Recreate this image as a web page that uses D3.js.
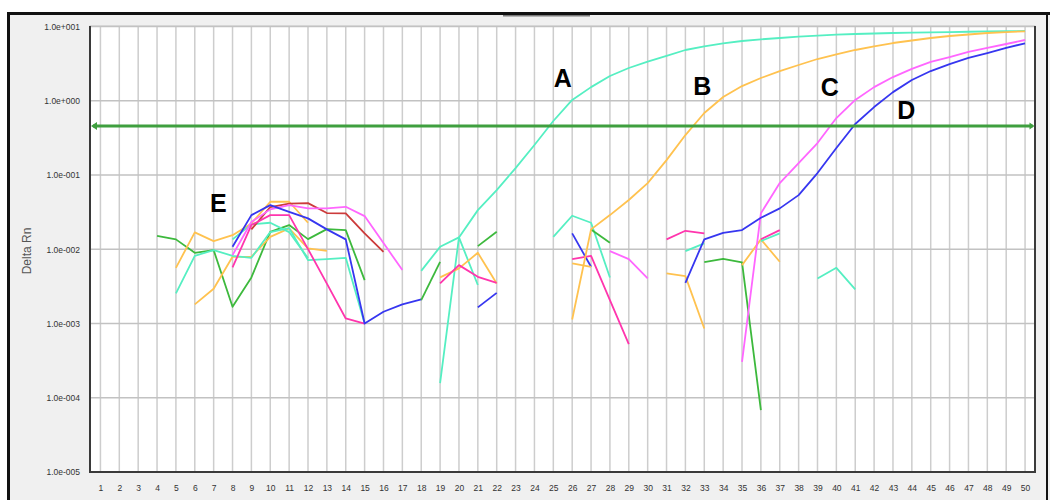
<!DOCTYPE html>
<html>
<head>
<meta charset="utf-8">
<script src="https://cdn.jsdelivr.net/npm/d3@7"></script>
<style>
  body { margin: 0; background: #ffffff; }
  svg { display: block; font-family: "Liberation Sans", Arial, sans-serif; }
</style>
</head>
<body>
<svg id="chart" width="1050" height="500"></svg>
<script>
// ---- data -----------------------------------------------------------------
const cycles = d3.range(1, 51);
const yTicks = [1e-5, 1e-4, 1e-3, 1e-2, 1e-1, 1e0, 1e1];
const yTickLabels = ["1.0e-005", "1.0e-004", "1.0e-003", "1.0e-002", "1.0e-001", "1.0e+000", "1.0e+001"];
const threshold = 0.457;

// amplification curves (value per cycle, starting at the given cycle)
const ampA = [0.00513, 0.0108, 0.01446, 0.0337, 0.0628, 0.124, 0.254, 0.535, 1.03, 1.53, 2.16, 2.77, 3.37, 4.02, 4.84, 5.40, 5.96, 6.40, 6.74, 7.02, 7.31, 7.54, 7.78, 7.95, 8.07, 8.20, 8.28, 8.38, 8.45, 8.53, 8.61, 8.67, 8.73];
const ampAStart = 18;
const ampB = [0.001135, 0.01854, 0.0289, 0.0461, 0.078, 0.159, 0.346, 0.685, 1.125, 1.58, 2.03, 2.52, 3.04, 3.66, 4.21, 4.84, 5.40, 6.01, 6.50, 7.02, 7.47, 7.83, 8.20, 8.45, 8.65];
const ampBStart = 26;
const ampC = [0.000305, 0.0305, 0.078, 0.145, 0.27, 0.586, 1.03, 1.53, 2.09, 2.69, 3.34, 3.89, 4.55, 5.15, 5.83, 6.60];
const ampCStart = 35;
const ampD = [0.00354, 0.0136, 0.01668, 0.01815, 0.0266, 0.0356, 0.0537, 0.1064, 0.231, 0.487, 0.824, 1.31, 1.91, 2.52, 3.13, 3.78, 4.40, 5.15, 5.96];
const ampDStart = 32;

// early-cycle background noise (group E)
const greenE = [0.0152, 0.0136, 0.00897, 0.00975, 0.00168, 0.00418, 0.01722, 0.0212, 0.0137, 0.0187, 0.01815, 0.00385];   // from 4
const orangeE1 = [0.00563, 0.0169, 0.0129, 0.0155, 0.0223, 0.0437, 0.0437, 0.0228];                                       // from 5
const orangeE2 = [0.00181, 0.00294, 0.00792, 0.00792, 0.0147, 0.0191, 0.0103, 0.00955];                                   // from 6
const aquaE1 = [0.00255, 0.00817, 0.00975, 0.00817, 0.00768, 0.01706, 0.0193, 0.00715, 0.00738, 0.00768, 0.001];          // from 5
const aquaE2 = [0.0136, 0.0217, 0.0228, 0.01706, 0.0076];                                                                 // from 8
const blueE = [0.0108, 0.0289, 0.0394, 0.032, 0.0261, 0.01854, 0.0136, 0.001, 0.00144, 0.00181, 0.00211];                // from 8
const redE = [0.01854, 0.0371, 0.0413, 0.0419, 0.0308, 0.0304, 0.01637, 0.00925];                                         // from 9
const magentaE = [0.00836, 0.0233, 0.0345, 0.0394, 0.0356, 0.0356, 0.0374, 0.028, 0.01213, 0.00525];                      // from 8
const pinkE = [0.0057, 0.0212, 0.0289, 0.0289, 0.01007, 0.00345, 0.00117, 0.001];                                         // from 8

// scattered noise fragments at later cycles
const greenM1 = [0.00207, 0.00679];              // from 18
const greenM2 = [0.01104, 0.01722];              // from 21
const aquaM = [0.000157, 0.01446, 0.0033];       // from 19
const orangeM = [0.00418, 0.00553, 0.00897, 0.00347]; // from 19
const pinkM = [0.00347, 0.00612, 0.00426, 0.00354];   // from 19
const blueM = [0.00165, 0.00259];                // from 21
const aquaG = [0.0147, 0.0283, 0.0228, 0.00418]; // from 25
const blueG = [0.01637, 0.00581];                // from 26
const pinkG = [0.00738, 0.00817, 0.00207, 0.000527]; // from 26
const orangeG = [0.00646, 0.00581];              // from 26
const greenG = [0.01854, 0.01225];               // from 27
const magentaG = [0.00946, 0.00738, 0.00405];    // from 28
const pinkR = [0.0136, 0.01775, 0.01637];        // from 31
const aquaR = [0.00946, 0.01202];                // from 32
const orangeR = [0.00473, 0.00435, 0.000859];    // from 31
const greenR = [0.00672, 0.00745, 0.00665, 0.0000681]; // from 33
const orangeR2 = [0.00612, 0.0136, 0.00679];     // from 35
const pinkR2 = [0.0136, 0.01815];                // from 36
const aquaR2 = [0.0129, 0.01637];                // from 36
const aquaR3 = [0.00405, 0.00563, 0.00288];      // from 39

const curveLabels = ["A", "B", "C", "D", "E"];
const labelCycles = [25.5, 32.9, 39.65, 43.7, 7.25];
const labelValues = [1.55, 1.2, 1.17, 0.57, 0.032];

// ---- styles ---------------------------------------------------------------
const C = {
  aqua: "#55efc2", orange: "#ffc24f", magenta: "#ff66ff", blue: "#3636f0",
  green: "#3db93d", pink: "#ff35ad", red: "#cc3b3b"
};

const traces = [
  [greenE, 4, C.green], [orangeE1, 5, C.orange], [orangeE2, 6, C.orange],
  [aquaE1, 5, C.aqua], [aquaE2, 8, C.aqua], [redE, 9, C.red],
  [magentaE, 8, C.magenta], [pinkE, 8, C.pink], [blueE, 8, C.blue],
  [greenM1, 18, C.green], [greenM2, 21, C.green], [aquaM, 19, C.aqua],
  [orangeM, 19, C.orange], [pinkM, 19, C.pink], [blueM, 21, C.blue],
  [aquaG, 25, C.aqua], [blueG, 26, C.blue], [pinkG, 26, C.pink],
  [orangeG, 26, C.orange], [greenG, 27, C.green], [magentaG, 28, C.magenta],
  [pinkR, 31, C.pink], [aquaR, 32, C.aqua], [orangeR, 31, C.orange],
  [greenR, 33, C.green], [orangeR2, 35, C.orange], [pinkR2, 36, C.pink],
  [aquaR2, 36, C.aqua], [aquaR3, 39, C.aqua],
  [ampA, ampAStart, C.aqua], [ampB, ampBStart, C.orange],
  [ampC, ampCStart, C.magenta], [ampD, ampDStart, C.blue]
].map(([vals, start, color]) => ({ color, points: vals.map((v, i) => [start + i, v]) }));

// ---- layout ---------------------------------------------------------------
const svg = d3.select("#chart");
const plot = { left: 90, right: 1035, top: 26, bottom: 472 };

const x = d3.scaleLinear().domain([0.5, 50.5]).range([plot.left + 1, plot.right - 0.5]);
const y = d3.scaleLog().domain([1e-5, 1e1]).range([plot.bottom, plot.top + 0.6]);

// window background and frame
svg.append("rect").attr("x", 7).attr("y", 12).attr("width", 1043).attr("height", 488).attr("fill", "#f0f0f0");
svg.append("rect").attr("x", 503).attr("y", 13.5).attr("width", 87).attr("height", 3).attr("fill", "#7a7a7a");
svg.append("path").attr("d", "M8.5,500 V13.5 H1050").attr("fill", "none").attr("stroke", "#111").attr("stroke-width", 3);
svg.append("line").attr("x1", 1047).attr("x2", 1047).attr("y1", 12).attr("y2", 500)
  .attr("stroke", "#111").attr("stroke-width", 2);

// plot area
svg.append("rect").attr("x", plot.left).attr("y", plot.top)
  .attr("width", plot.right - plot.left).attr("height", plot.bottom - plot.top)
  .attr("fill", "#ffffff").attr("stroke", "#c8c8c8").attr("stroke-width", 1);

const grid = svg.append("g");
grid.selectAll("line.v").data(cycles).join("line").attr("class", "v")
  .attr("x1", d => x(d)).attr("x2", d => x(d))
  .attr("y1", plot.top).attr("y2", plot.bottom)
  .attr("stroke", "#cdcdcd").attr("stroke-width", 1.5);
grid.selectAll("line.h").data(yTicks).join("line").attr("class", "h")
  .attr("x1", plot.left).attr("x2", plot.right)
  .attr("y1", d => y(d)).attr("y2", d => y(d))
  .attr("stroke", "#c2c2c2").attr("stroke-width", 1.5);

// plot border: dark left, bottom and right edges
svg.append("path")
  .attr("d", `M${plot.left},${plot.top} V${plot.bottom} H${plot.right} V${plot.top}`)
  .attr("fill", "none").attr("stroke", "#3a3a3a").attr("stroke-width", 2);

// axes
const yAxis = svg.append("g").attr("transform", `translate(${plot.left},0)`)
  .call(d3.axisLeft(y).tickValues(yTicks).tickFormat((d, i) => yTickLabels[i]).tickSize(0).tickPadding(10));
yAxis.select(".domain").remove();
yAxis.selectAll("text").attr("font-size", 8.5).attr("fill", "#333");

const xAxis = svg.append("g").attr("transform", `translate(0,${plot.bottom})`)
  .call(d3.axisBottom(x).tickValues(cycles).tickFormat(d3.format("d")).tickSize(0).tickPadding(13));
xAxis.select(".domain").remove();
xAxis.selectAll("text").attr("font-size", 8.5).attr("fill", "#333");

svg.append("text").attr("transform", "translate(31,251) rotate(-90)")
  .attr("text-anchor", "middle").attr("font-size", 12).attr("fill", "#555")
  .text("Delta Rn");

// traces
const line = d3.line().x(d => x(d[0])).y(d => y(d[1]));
const clip = svg.append("clipPath").attr("id", "plotclip").append("rect")
  .attr("x", plot.left + 1).attr("y", plot.top).attr("width", plot.right - plot.left - 2).attr("height", plot.bottom - plot.top - 1);
svg.append("g").attr("clip-path", "url(#plotclip)")
  .selectAll("path").data(traces).join("path")
  .attr("d", d => line(d.points))
  .attr("fill", "none").attr("stroke", d => d.color)
  .attr("stroke-width", 1.8).attr("stroke-linejoin", "round");

// threshold line with arrow ends
const ty = y(threshold);
const thr = svg.append("g").attr("fill", "#3f9f3f");
thr.append("line").attr("x1", x(0.5) + 2).attr("x2", x(50.5) - 2).attr("y1", ty).attr("y2", ty)
  .attr("stroke", "#3f9f3f").attr("stroke-width", 3);
thr.append("path").attr("d", `M${x(0.5)},${ty} l6,-4 v8 z`);
thr.append("path").attr("d", `M${x(50.5)},${ty} l-5,-3.5 v7 z`);

// curve labels
svg.append("g").selectAll("text").data(curveLabels).join("text")
  .attr("x", (d, i) => x(labelCycles[i])).attr("y", (d, i) => y(labelValues[i]))
  .attr("text-anchor", "middle").attr("font-size", 25).attr("font-weight", "bold").attr("fill", "#000")
  .text(d => d);
</script>
</body>
</html>
